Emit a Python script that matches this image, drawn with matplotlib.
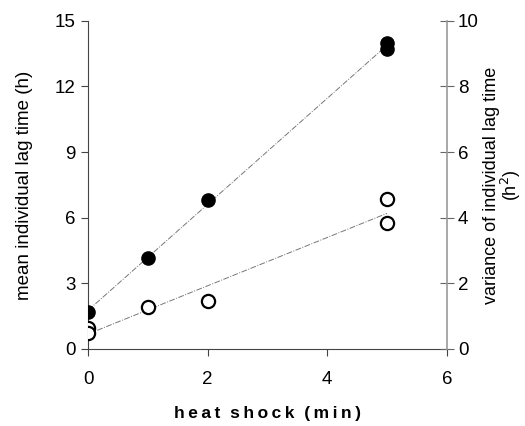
import numpy as np
import matplotlib
matplotlib.use("Agg")
import matplotlib.pyplot as plt

plt.rcParams['font.family'] = ['Liberation Sans', 'DejaVu Sans']

# mean lag time (left axis, h)
shock_mean = [0, 1, 2, 5, 5]
mean_lag = [1.68, 4.17, 6.79, 14.0, 13.7]

# variance of lag time (right axis, h^2)
shock_var = [0, 0, 1, 2, 5, 5]
var_lag = [0.63, 0.48, 1.29, 1.46, 4.58, 3.85]

fig = plt.figure(figsize=(5.25, 4.26), dpi=100)
ax = fig.add_axes([0.168, 0.181, 0.683, 0.770])
ax2 = ax.twinx()

# regression lines
for xs, ys, a in [(shock_mean, mean_lag, ax), (shock_var, var_lag, ax2)]:
    k, b = np.polyfit(xs, ys, 1)
    xx = np.array([0, 5])
    a.plot(xx, k * xx + b, color='#777777', lw=0.7, ls=(0, (6, 1.5, 1, 1.5)), zorder=1)

ax.plot(shock_mean, mean_lag, 'o', color='black', ms=9.5, zorder=3)
ax2.plot(shock_var, var_lag, 'o', mfc='white', mec='black', mew=1.6, ms=9.5, zorder=3)

ax.set_xlim(0, 6)
ax.set_ylim(0, 15)
ax2.set_ylim(0, 10)
ax.set_xticks([0, 2, 4, 6])
ax.set_yticks([0, 3, 6, 9, 12, 15])
ax2.set_yticks([0, 2, 4, 6, 8, 10])

for a in (ax, ax2):
    a.spines['top'].set_visible(False)
ax.spines['right'].set_visible(False)
ax2.spines['left'].set_visible(False)
ax2.spines['bottom'].set_visible(False)
ax2.spines['right'].set_color('#999999')
ax2.spines['right'].set_linewidth(1.2)
ax.spines['left'].set_color('#444444')
ax.spines['bottom'].set_color('#444444')

ax.tick_params(axis='y', direction='out', length=5, color='#444444', labelsize=13.5, pad=4)
ax.tick_params(axis='x', direction='out', length=5, color='#444444', labelsize=13.5, pad=11)
ax2.tick_params(axis='y', direction='inout', length=10, color='#666666', labelsize=13.5, pad=3)

ax.set_ylabel('mean individual lag time (h)', fontsize=13.5, labelpad=16)
ax2.set_ylabel('variance of individual lag time\n(h$^2$)', fontsize=13, labelpad=3,
               linespacing=0.95)
ax.set_xlabel('h\u2009e\u2009a\u2009t  s\u2009h\u2009o\u2009c\u2009k  (\u2009m\u2009i\u2009n\u2009)',
              fontsize=12.5, fontweight='bold', labelpad=13)

fig.savefig('out.png', dpi=100)
